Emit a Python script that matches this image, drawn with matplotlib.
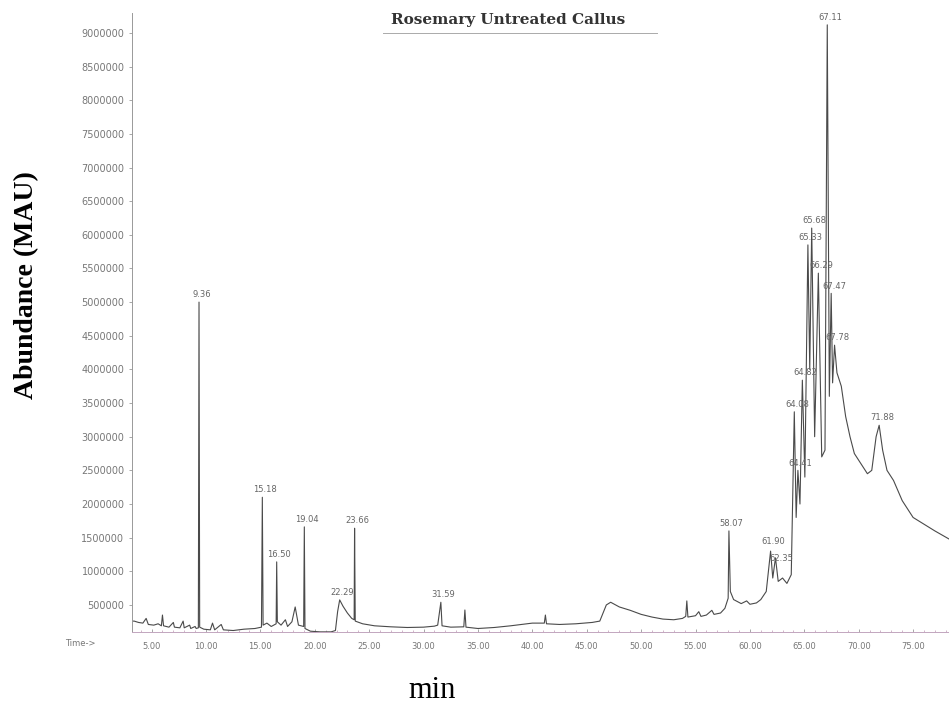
import matplotlib
matplotlib.use('Agg')
import numpy as np
import matplotlib.pyplot as plt
from matplotlib.lines import Line2D

# chromatogram trace (time in min, abundance)
trace_time = [3.2, 3.4, 3.8, 4.2, 4.5, 4.7, 5.2, 5.6, 5.9, 6.0, 6.1, 6.6, 7.0, 7.1,
              7.6, 7.9, 8.0, 8.5, 8.6, 9.0, 9.1, 9.30, 9.36, 9.42, 9.8, 10.4, 10.6,
              10.8, 11.4, 11.6, 12.5, 13.5, 14.5, 15.1, 15.18, 15.25, 15.6, 16.0,
              16.45, 16.50, 16.56, 16.9, 17.3, 17.5, 17.9, 18.2, 18.5, 18.98, 19.04,
              19.1, 19.6, 20.5, 21.5, 21.9, 22.1, 22.29, 22.6, 23.0, 23.4, 23.62,
              23.66, 23.72, 24.4, 25.5, 27.0, 28.5, 30.0, 31.0, 31.3, 31.59, 31.7,
              32.5, 33.7, 33.8, 33.9, 35.0, 36.5, 38.0, 39.0, 40.0, 41.1, 41.2, 41.3,
              42.5, 44.0, 45.5, 46.2, 46.8, 47.2, 48.0, 49.0, 50.0, 51.0, 52.0, 53.0,
              53.8, 54.1, 54.2, 54.3, 55.0, 55.3, 55.5, 56.0, 56.5, 56.7, 57.3, 57.7,
              58.0, 58.07, 58.2, 58.5, 59.2, 59.7, 60.0, 60.6, 61.0, 61.5, 61.90,
              62.1, 62.35, 62.6, 63.0, 63.4, 63.8, 64.08, 64.25, 64.41, 64.6, 64.82,
              65.05, 65.33, 65.5, 65.68, 65.95, 66.29, 66.6, 66.9, 67.11, 67.3, 67.47,
              67.6, 67.78, 68.0, 68.4, 68.8, 69.2, 69.6, 70.2, 70.8, 71.2, 71.6, 71.88,
              72.2, 72.6, 73.2, 74.0, 75.0, 76.0, 77.0, 78.3]
trace_abund = [260e3, 260e3, 240e3, 230e3, 300e3, 210e3, 200e3, 220e3, 190e3, 350e3,
               190e3, 170e3, 240e3, 170e3, 160e3, 260e3, 160e3, 200e3, 150e3, 180e3,
               150e3, 160e3, 5.0e6, 170e3, 140e3, 130e3, 230e3, 130e3, 210e3, 130e3,
               120e3, 140e3, 150e3, 170e3, 2.1e6, 200e3, 230e3, 180e3, 220e3, 1.14e6,
               250e3, 200e3, 280e3, 180e3, 250e3, 470e3, 200e3, 180e3, 1.66e6, 150e3,
               110e3, 100e3, 100e3, 120e3, 400e3, 575e3, 480e3, 380e3, 300e3, 280e3,
               1.64e6, 260e3, 220e3, 190e3, 175e3, 165e3, 170e3, 185e3, 200e3, 540e3,
               190e3, 170e3, 175e3, 425e3, 170e3, 150e3, 165e3, 190e3, 210e3, 230e3,
               230e3, 350e3, 220e3, 210e3, 220e3, 240e3, 260e3, 500e3, 540e3, 470e3,
               420e3, 360e3, 320e3, 290e3, 280e3, 300e3, 330e3, 560e3, 320e3, 340e3,
               400e3, 330e3, 350e3, 420e3, 360e3, 380e3, 450e3, 600e3, 1.6e6, 700e3,
               580e3, 520e3, 560e3, 510e3, 530e3, 580e3, 700e3, 1.3e6, 900e3, 1.2e6,
               850e3, 900e3, 820e3, 950e3, 3.37e6, 1.8e6, 2.5e6, 2.0e6, 3.84e6, 2.4e6,
               5.85e6, 4.0e6, 6.1e6, 3.0e6, 5.43e6, 2.7e6, 2.8e6, 9.12e6, 3.6e6, 5.13e6,
               3.8e6, 4.36e6, 3.95e6, 3.75e6, 3.3e6, 3.0e6, 2.75e6, 2.6e6, 2.45e6,
               2.5e6, 3.0e6, 3.17e6, 2.8e6, 2.5e6, 2.35e6, 2.05e6, 1.8e6, 1.7e6, 1.6e6,
               1.48e6]

peak_labels = ['9.36', '15.18', '16.50', '19.04', '22.29', '23.66', '31.59', '58.07',
               '61.90', '62.35', '64.08', '64.41', '64.82', '65.33', '65.68', '66.29',
               '67.11', '67.47', '67.78', '71.88']
peak_times = [9.36, 15.18, 16.50, 19.04, 22.29, 23.66, 31.59, 58.07, 61.90, 62.35,
              64.08, 64.41, 64.82, 65.33, 65.68, 66.29, 67.11, 67.47, 67.78, 71.88]

x_ticks = [5, 10, 15, 20, 25, 30, 35, 40, 45, 50, 55, 60, 65, 70, 75]
y_ticks = [500000, 1000000, 1500000, 2000000, 2500000, 3000000, 3500000, 4000000,
           4500000, 5000000, 5500000, 6000000, 6500000, 7000000, 7500000, 8000000,
           8500000, 9000000]

fig = plt.figure(figsize=(9.49, 7.07), dpi=100)
ax = fig.add_axes([132/949, 1 - 632/707, 1 - 132/949, (632 - 13)/707])

ax.plot(trace_time, trace_abund, color='#4a4a4a', lw=0.8)

# label offsets in points (crowded ones nudged like on the scan)
for lab, t in zip(peak_labels, peak_times):
    h = np.interp(t, trace_time, trace_abund)
    dx, dy = 2, 2
    if lab == '62.35':
        dx, dy = 4, -4
    if lab == '61.90':
        dx, dy = 2, 4
    ax.annotate(lab, (t, h), xytext=(dx, dy), textcoords='offset points',
                ha='center', va='bottom', fontsize=6, color='#666666')

ax.set_xlim(3.2, 78.3)
ax.set_ylim(98000, 9.296e6)

ax.set_xticks(x_ticks)
ax.set_xticklabels(['%.2f' % v for v in x_ticks])
ax.set_xticks(np.arange(4, 79, 1), minor=True)
ax.set_yticks(y_ticks)
ax.set_yticklabels([str(v) for v in y_ticks])
ax.tick_params(axis='both', labelsize=6, labelcolor='#777777', color='#999999',
               length=2, width=0.6)
ax.tick_params(axis='y', labelsize=7)
ax.tick_params(axis='x', which='major', direction='in', pad=7)
ax.tick_params(axis='x', which='minor', direction='in', length=1.5, color='#c9a8c0')

for side in ['top', 'right']:
    ax.spines[side].set_visible(False)
ax.spines['left'].set_color('#999999')
ax.spines['left'].set_linewidth(0.7)
ax.spines['bottom'].set_color('#c2a6be')
ax.spines['bottom'].set_linewidth(0.7)

fig.text(65/949, 1 - 644/707, 'Time->', fontsize=6, color='#777777',
         ha='left', va='center')

fig.text(508/949, 1 - 20/707, 'Rosemary Untreated Callus', fontsize=11,
         fontweight='bold', family='DejaVu Serif', color='#333333',
         ha='center', va='center')
fig.add_artist(Line2D([383/949, 657/949], [1 - 33/707, 1 - 33/707],
                      color='#aaaaaa', lw=0.7))

fig.text(27/949, 1 - 285/707, 'Abundance (MAU)', rotation=90, fontsize=20,
         fontweight='bold', family='Liberation Serif', ha='center', va='center')
fig.text(432/949, 1 - 690/707, 'min', fontsize=22, family='Liberation Serif',
         ha='center', va='center')

fig.savefig('out.png', dpi=100)
